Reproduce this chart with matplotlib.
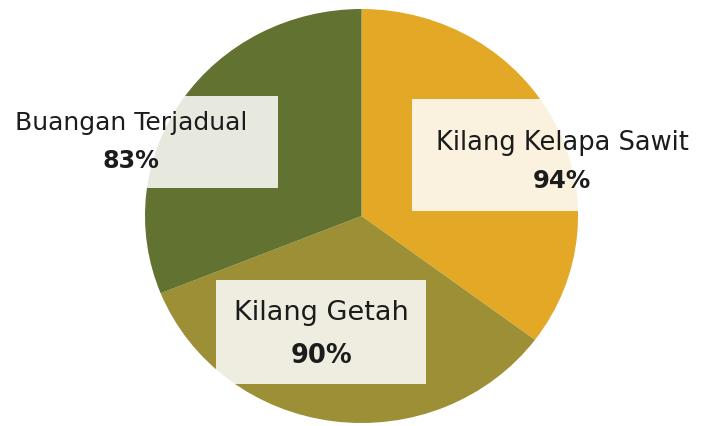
import matplotlib.pyplot as plt
from matplotlib.patches import Rectangle

# data
labels = ['Kilang Kelapa Sawit', 'Kilang Getah', 'Buangan Terjadual']
values = [94, 90, 83]
colors = ['#E3A926', '#9C8F35', '#617231']

plt.rcParams['font.family'] = ['DejaVu Sans']

W, H = 706, 427
fig = plt.figure(figsize=(W / 100, H / 100), dpi=100)

# pie axes (slightly elliptical like the original)
px_left, px_right, px_top, px_bottom = 145, 578, 10, 424
ax = fig.add_axes([px_left / W, 1 - px_bottom / H,
                   (px_right - px_left) / W, (px_bottom - px_top) / H])
ax.pie(values, colors=colors, startangle=90, counterclock=False,
       wedgeprops=dict(linewidth=0))
ax.set_aspect('auto')
ax.set_xlim(-1, 1)
ax.set_ylim(-1, 1)
ax.axis('off')

# overlay in pixel coordinates for the label boxes
ov = fig.add_axes([0, 0, 1, 1])
ov.set_xlim(0, W)
ov.set_ylim(H, 0)
ov.axis('off')

# (box x0, y0, x1, y1, text x, name y, pct y, fontsize)
boxes = [
    (412, 100, 720, 212, 562, 143, 181, 18.5),
    (216, 281, 426, 385, 321, 313, 356, 19.5),
    (-20, 97, 278, 189, 131, 123, 161, 18),
]
for (x0, y0, x1, y1, tx, ny, py, fs), name, val in zip(boxes, labels, values):
    ov.add_patch(Rectangle((x0, y0), x1 - x0, y1 - y0, facecolor='white',
                           alpha=0.85, linewidth=0))
    ov.text(tx, ny, name, ha='center', va='center', fontsize=fs, color='#1c1c1c')
    ov.text(tx, py, f'{val}%', ha='center', va='center', fontsize=fs * 0.95,
            fontweight='bold', color='#1c1c1c')

fig.savefig('out.png', dpi=100)
